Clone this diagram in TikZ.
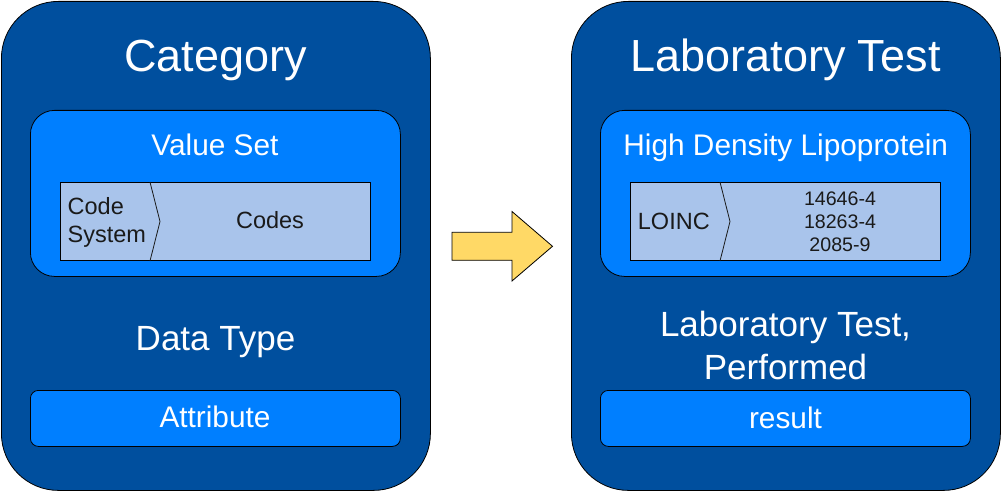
\documentclass[tikz,border=0pt]{standalone}
\usepackage{fontspec}
\setmainfont{Liberation Sans}
\definecolor{darkbl}{HTML}{004F9E}
\definecolor{midbl}{HTML}{007FFF}
\definecolor{lightbl}{HTML}{A9C4EB}
\definecolor{arrowy}{HTML}{FFD966}
\definecolor{codetxt}{HTML}{1A1A1A}
\begin{document}
\begin{tikzpicture}[x=1pt,y=-1pt,
  outerbox/.style={draw=black, line width=0.8pt, fill=darkbl, rounded corners=57pt, anchor=north west, inner sep=0pt, minimum width=429pt, minimum height=489pt},
  innerbox/.style={draw=black, line width=0.8pt, fill=midbl, rounded corners=24pt, anchor=north west, inner sep=0pt, minimum width=370pt, minimum height=166pt},
  attrbox/.style={draw=black, line width=0.8pt, fill=midbl, rounded corners=8pt, anchor=north west, inner sep=0pt, minimum width=370pt, minimum height=56pt},
  codebox/.style={draw=black, line width=1pt, fill=lightbl, anchor=north west, inner sep=0pt, minimum width=310pt, minimum height=78pt},
  sep/.style={draw=codetxt, line width=0.8pt},
  wtext/.style={text=white, inner sep=0pt, anchor=base},
  btext/.style={text=codetxt, inner sep=0pt, anchor=base},
  bigtitle/.style={wtext, font=\fontsize{45}{54}\selectfont},
  midtitle/.style={wtext, font=\fontsize{29.8}{36}\selectfont},
  subtitle/.style={wtext, font=\fontsize{35}{42}\selectfont},
  codefont/.style={btext, font=\fontsize{23.5}{28.3}\selectfont},
  numfont/.style={btext, font=\fontsize{19.6}{23.5}\selectfont},
  bigarrow/.style={draw=black, line width=0.8pt, fill=arrowy, line join=miter}
]
\useasboundingbox (0,0) rectangle (1001,492);

% ---------- left panel ----------
\node[outerbox] (catbox) at (1,1) {};
\node[bigtitle] (cattitle) at (215.5,71.7) {Category};
\node[innerbox] (vsbox) at (30,110) {};
\node[midtitle] (vstitle) at (215,155) {Value Set};
\node[codebox] (vscode) at (60,182) {};
\draw[sep] ([xshift=90pt]vscode.north west) -- ([xshift=100pt]vscode.west) -- ([xshift=90pt]vscode.south west);
\node[codefont, anchor=base west] (cs1) at (67.5,214) {Code};
\node[codefont, anchor=base west] (cs2) at (67.5,242.3) {System};
\node[codefont] (codes) at (270,228.3) {Codes};
\node[subtitle] (dttitle) at (215.5,350) {Data Type};
\node[attrbox] (attr) at (30,390) {};
\node[midtitle] (attrtxt) at (215,427.7) {Attribute};

% ---------- arrow ----------
\draw[bigarrow] (452,232.3) -- (512,232.3) -- (512,211.5) -- (552.5,246.3) -- (512,281) -- (512,260.3) -- (452,260.3) -- cycle;

% ---------- right panel ----------
\node[outerbox] (labbox) at (571,1) {};
\node[bigtitle] (labtitle) at (785.5,71.7) {Laboratory Test};
\node[innerbox] (hdlbox) at (600,110) {};
\node[midtitle] (hdltitle) at (785.8,155) {High Density Lipoprotein};
\node[codebox] (hdlcode) at (630,182) {};
\draw[sep] ([xshift=90pt]hdlcode.north west) -- ([xshift=100pt]hdlcode.west) -- ([xshift=90pt]hdlcode.south west);
\node[codefont, anchor=base west] (loinc) at (637.7,229.3) {LOINC};
\node[numfont] (n1) at (840,205) {14646-4};
\node[numfont] (n2) at (840,228.3) {18263-4};
\node[numfont] (n3) at (840,251.7) {2085-9};
\node[subtitle] (ltp1) at (785.5,336.7) {Laboratory Test,};
\node[subtitle] (ltp2) at (785.5,379.3) {Performed};
\node[attrbox] (res) at (600,390) {};
\node[midtitle] (restxt) at (785.5,428.3) {result};
\end{tikzpicture}
\end{document}
